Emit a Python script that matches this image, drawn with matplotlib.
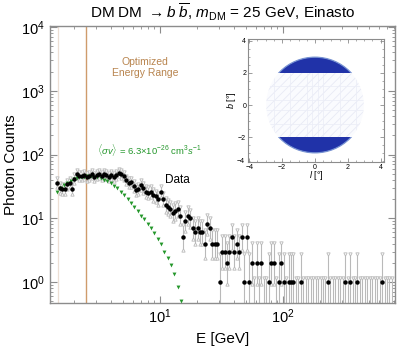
import numpy as np
import matplotlib
matplotlib.use('Agg')
import matplotlib.pyplot as plt
from matplotlib.patches import Circle, Rectangle
from matplotlib.ticker import LogLocator, NullFormatter, LogFormatterMathtext, MultipleLocator, FixedLocator

plt.rcParams['font.family'] = ['Liberation Sans', 'DejaVu Sans']
plt.rcParams['mathtext.fontset'] = 'custom'
plt.rcParams['mathtext.rm'] = 'Liberation Sans'
plt.rcParams['mathtext.it'] = 'Liberation Sans:italic'
plt.rcParams['mathtext.bf'] = 'Liberation Sans:bold'
plt.rcParams['hatch.color'] = '#e8eaf5'
plt.rcParams['hatch.linewidth'] = 0.6

# ---------------- data ----------------
# data binning: log10(E) of first bin centre and bin width (dex)
data_logE_first = 0.165
data_logE_step = 0.02
counts = [
    36, 30, 29, 29, 34, 36, 29, 42, 49, 46,
    46, 47, 45, 46, 49, 45, 47, 50, 46, 49,
    47, 44, 47, 45, 48, 52, 49, 46, 40, 36,
    37, 32, 28, 29, 33, 30, 26, 25, 26, 23,
    22, 20, 26, 20, 16, 15, 14, 12, 13, 14,
    11, 5, 9, 11, 10, 7, 6, 7, 6, 6,
    4, 8, 7, 4, 4, 4, 1, 3, 3, 2,
    3, 5, 3, 4, 3, 5, 1, 5, 1, 2,
    0, 2, 0, 2, 0, 0, 1, 2, 2, 0,
    1, 2, 1, 0, 1, 1, 1, 0, 0, 1,
    0, 0, 0, 0, 0, 0, 0, 0, 0, 0,
    1, 0, 0, 0, 0, 0, 0, 1, 0, 1,
    0, 0, 1, 0, 0, 0, 0, 0, 0, 0,
    0, 0, 1, 0, 0, 0, 0,
]
# model (green triangles)
model_logE_first = 0.165
model_logE_step = 0.0272
model_counts = [
    26, 30, 33, 36, 38.5, 41, 42.5, 44, 45, 45.5,
    45.5, 45, 44, 42.5, 40.5, 38, 35.5, 32.5, 29.5, 26,
    23, 20, 17.5, 15, 13, 11, 9.8, 8.2, 7, 5.9,
    4.8, 3.9, 3.0, 2.4, 1.85, 1.35, 0.85, 0.5,
]
E_range_lines = [1.48, 2.5]

title = r"DM DM $\rightarrow b\ \overline{b}$, $m_{\rm DM}$ = 25 GeV, Einasto"

# ---------------- figure ----------------
W, H = 399, 349
fig = plt.figure(figsize=(W / 100, H / 100), dpi=100)

def fx(px):
    return px / W

def fy(py):
    return 1 - py / H

L, R, T, B = 49.5, 395, 26, 303
ax = fig.add_axes([fx(L), fy(B), fx(R - L), (B - T) / H])
ax.set_xscale('log')
ax.set_yscale('log')
ax.set_xlim(1.265, 813)
ax.set_ylim(0.469, 10380)

counts_a = np.array(counts, dtype=float)
E = 10 ** (data_logE_first + data_logE_step * np.arange(len(counts_a)))
Em = 10 ** (model_logE_first + model_logE_step * np.arange(len(model_counts)))

hi = counts_a + 0.5 + np.sqrt(counts_a + 0.45)
lo = np.clip(counts_a + 0.5 - np.sqrt(counts_a + 0.45), 0.05, None)

gray = '#b9b9b9'
ax.vlines(E, lo, hi, color=gray, lw=0.8, zorder=2)
ax.plot(E, hi, 'v', mfc='white', mec=gray, mew=0.6, ms=2.4, zorder=2)
ax.plot(E, lo, '^', mfc='white', mec=gray, mew=0.6, ms=2.4, zorder=2)

nz = counts_a > 0
ax.plot(E[nz], counts_a[nz], 'o', color='black', ms=3.2, mew=0, zorder=4)

green = '#23962a'
ax.plot(Em, model_counts, 'v', color=green, ms=2.8, mew=0, zorder=3)

ax.axvline(E_range_lines[0], color='#ecdfd4', lw=0.9, zorder=1)
ax.axvline(E_range_lines[1], color='#cf9c6c', lw=1.0, zorder=1)

ax.text(0.276, 0.85, 'Optimized\nEnergy Range', transform=ax.transAxes,
        ha='center', va='center', color='#b8844e', fontsize=7.5, linespacing=1.2)
ax.text(0.137, 0.551, r"$\langle\sigma v\rangle$ = 6.3$\times$10$^{-26}$ cm$^3$$s^{-1}$",
        transform=ax.transAxes, ha='left', va='center', color=green, fontsize=6.8)
ax.text(0.369, 0.443, 'Data', transform=ax.transAxes, ha='center', va='center',
        color='black', fontsize=8.5)

framec = '#8c8c8c'
for s in ax.spines.values():
    s.set_color(framec)
    s.set_linewidth(1.0)
ax.tick_params(which='both', direction='in', top=True, right=True, color=framec,
               labelcolor='black', labelsize=10.5)
ax.tick_params(which='major', length=5, width=0.8)
ax.tick_params(which='minor', length=2.5, width=0.6)
ax.xaxis.set_major_locator(LogLocator(base=10, numticks=10))
ax.xaxis.set_minor_locator(LogLocator(base=10, subs=np.arange(2, 10), numticks=20))
ax.xaxis.set_minor_formatter(NullFormatter())
ax.yaxis.set_major_locator(LogLocator(base=10, numticks=10))
ax.yaxis.set_minor_locator(LogLocator(base=10, subs=np.arange(2, 10), numticks=20))
ax.yaxis.set_minor_formatter(NullFormatter())
ax.xaxis.set_major_formatter(LogFormatterMathtext())
ax.yaxis.set_major_formatter(LogFormatterMathtext())

ax.set_xlabel('E [GeV]', fontsize=11, labelpad=4)
ax.set_ylabel('Photon Counts', fontsize=11, labelpad=2)

fig.text(0.5 * (fx(L) + fx(R)), fy(12), title, ha='center', va='center', fontsize=11)

# ---------------- inset ----------------
iL, iR, iT, iB = 248.3, 384.3, 39.3, 161.7
ai = fig.add_axes([fx(iL), fy(iB), fx(iR - iL), (iB - iT) / H])
ai.set_xlim(-4.06, 4.22)
ai.set_ylim(-3.52, 4.08)
blue = '#2032a8'
for y0 in (2, -7):
    c = Circle((0, 0), 2.97, fc=blue, ec='#7893d2', lw=0.9, zorder=2)
    ai.add_patch(c)
    c.set_clip_path(Rectangle((-5, y0), 10, 5, transform=ai.transData))
mid = Circle((0, 0), 2.97, fc='#fafbfe', ec='#e8eaf5', lw=0.0, hatch='////', zorder=1)
ai.add_patch(mid)
mid.set_clip_path(Rectangle((-5, -2), 10, 4, transform=ai.transData))
grid_l = [-2.5, -1.5, -0.5, -0.2, 0.2, 0.5, 1.5, 2.5]
grid_b = [-1.2, -0.3, 0.3, 1.2]
gl = ai.vlines(grid_l, -2, 2, color='#eceef7', lw=0.6, zorder=1.5)
gl.set_clip_path(mid)
gh = ai.hlines(grid_b, -3, 3, color='#eceef7', lw=0.6, zorder=1.5)
gh.set_clip_path(mid)

for s in ai.spines.values():
    s.set_color(framec)
    s.set_linewidth(0.8)
ai.xaxis.set_major_locator(MultipleLocator(2))
ai.yaxis.set_major_locator(FixedLocator([-2, 0, 2, 4]))
ai.xaxis.set_minor_locator(MultipleLocator(0.5))
ai.yaxis.set_minor_locator(MultipleLocator(0.5))
ai.tick_params(which='both', direction='in', top=True, right=True, color=framec,
               labelcolor='black', labelsize=5, pad=1.5)
ai.tick_params(which='major', length=3, width=0.6)
ai.tick_params(which='minor', length=1.5, width=0.5)
ai.text(-0.025, 0.0, '\u22124', transform=ai.transAxes, ha='right', va='center', fontsize=5)
ai.set_xlabel(r"$l$ [$\degree$]", fontsize=6.5, labelpad=-1)
ai.set_ylabel(r"$b$ [$\degree$]", fontsize=6.5, labelpad=0)
ai.set_facecolor('white')

fig.savefig('out.png', dpi=100)
